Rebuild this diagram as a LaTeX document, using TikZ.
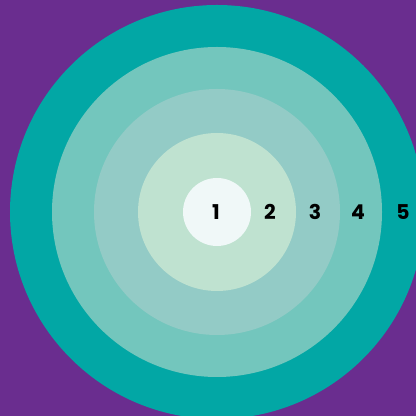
\documentclass[tikz,border=0pt]{standalone}
\usepackage{fontspec}
\setmainfont{Poppins}
\usetikzlibrary{positioning}
\definecolor{tgpurple}{HTML}{6A2D8F}
\definecolor{tgringa}{HTML}{02A7A5}
\definecolor{tgringb}{HTML}{73C6BD}
\definecolor{tgringc}{HTML}{93CBC6}
\definecolor{tgringd}{HTML}{BFE2D0}
\definecolor{tgcore}{HTML}{F0F8F8}
\tikzset{
  tg ring/.style={circle, draw=none, inner sep=0pt},
  tg num/.style={font=\fontsize{14.5}{14.5}\selectfont\bfseries, text=black, inner sep=0pt}
}
\begin{document}
\begin{tikzpicture}[x=1cm, y=1cm]
  \useasboundingbox (0,0) rectangle (10.4,10.4);
  \clip (0,0) rectangle (10.4,10.4);
  \fill[tgpurple] (0,0) rectangle (10.4,10.4);
  \coordinate (ctr) at (5.425,5.1);
  \node[tg ring, fill=tgringa, minimum size=10.35cm] (ringa) at (ctr) {};
  \node[tg ring, fill=tgringb, minimum size=8.25cm] (ringb) at (ctr) {};
  \node[tg ring, fill=tgringc, minimum size=6.15cm] (ringc) at (ctr) {};
  \node[tg ring, fill=tgringd, minimum size=3.95cm] (ringd) at (ctr) {};
  \node[tg ring, fill=tgcore, minimum size=1.7cm] (core) at (ctr) {};
  \node[tg num] (n1) at (5.4,5.1) {1};
  \node[tg num] (n2) at (6.75,5.1) {2};
  \node[tg num] (n3) at (7.875,5.1) {3};
  \node[tg num] (n4) at (8.95,5.1) {4};
  \node[tg num] (n5) at (10.075,5.1) {5};
\end{tikzpicture}
\end{document}
